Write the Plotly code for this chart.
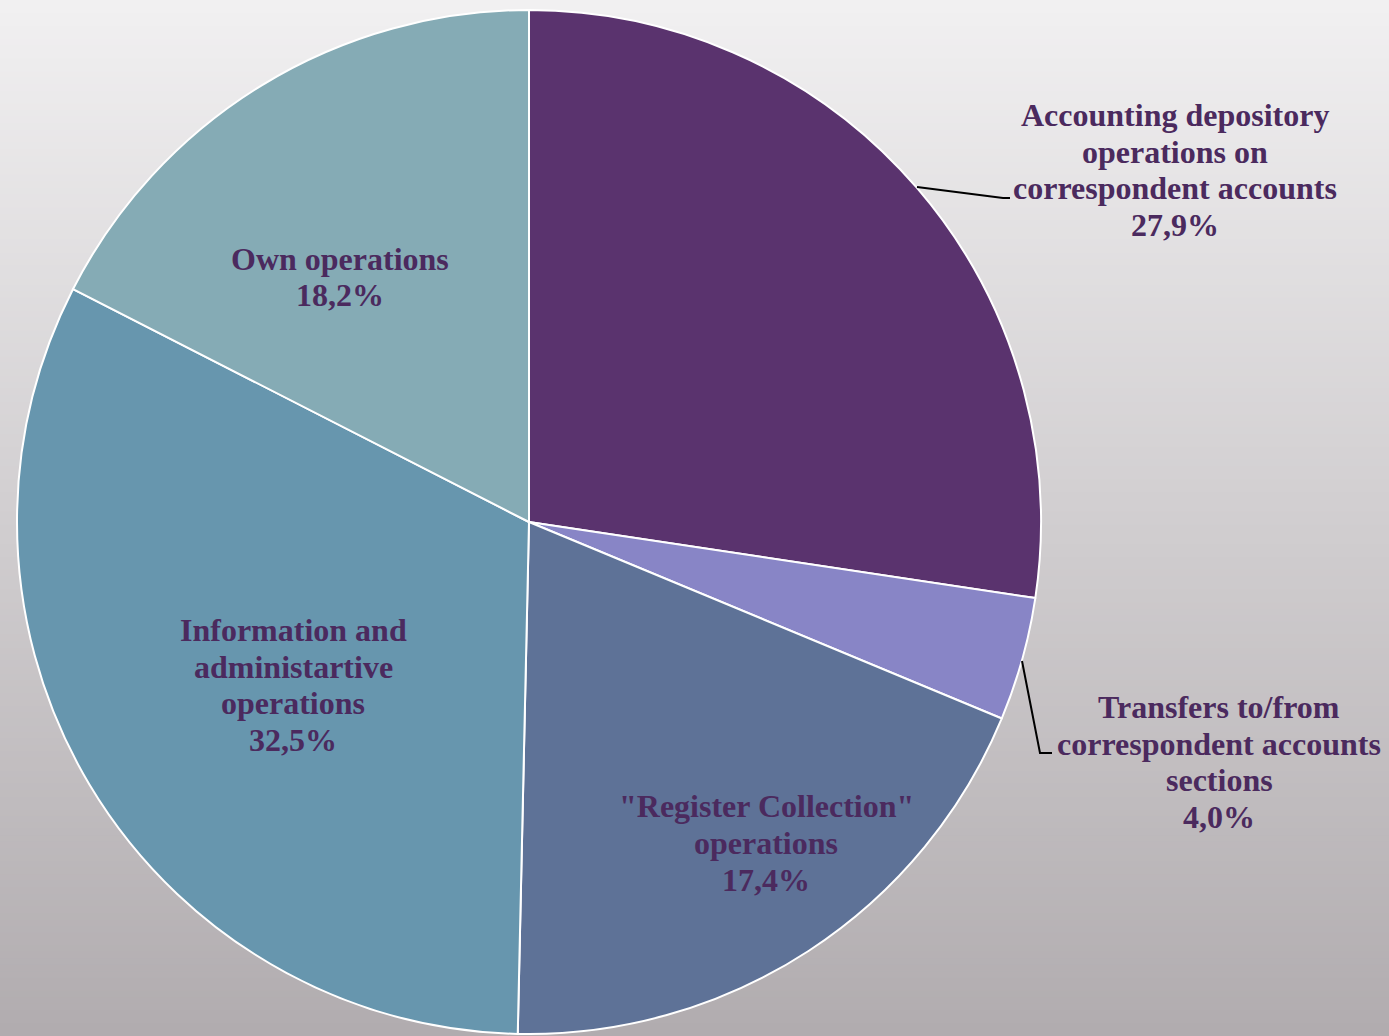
import plotly.graph_objects as go

# ---- data ----
labels = [
    ["Accounting depository", "operations on", "correspondent accounts"],
    ["Transfers to/from", "correspondent accounts", "sections"],
    ["\"Register Collection\"", "operations"],
    ["Information and", "administartive", "operations"],
    ["Own operations"],
]
# slice sizes as drawn in the picture
slice_values = [27.4, 3.9, 19.1, 32.2, 17.5]
# percentages printed on the labels
label_pct = ["27,9%", "4,0%", "17,4%", "32,5%", "18,2%"]
colors = ["#5a336e", "#8885c6", "#5e7297", "#6796ae", "#85abb5"]

W, H = 1389, 1036
text_color = "#4b2a5e"
font_size = 32
line_step = 36.8

# label block centres in pixels (layout only)
label_pos = [(1175, 170), (1219, 762), (766, 843), (293, 685), (340, 277)]

fig = go.Figure()
fig.add_trace(go.Pie(
    labels=[" ".join(l) for l in labels],
    values=slice_values,
    sort=False,
    direction="clockwise",
    rotation=0,
    marker=dict(colors=colors, line=dict(color="white", width=2)),
    textinfo="none",
    hoverinfo="skip",
    showlegend=False,
    domain=dict(x=[17 / W, 1041 / W], y=[1 - 1034 / H, 1 - 10 / H]),
))

# gradient background via thin strips
shapes = []
n = 160
c0 = (241, 240, 241)
c1 = (177, 172, 175)
for i in range(n):
    t = i / (n - 1)
    c = tuple(round(c0[k] + (c1[k] - c0[k]) * t) for k in range(3))
    shapes.append(dict(
        type="rect", xref="paper", yref="paper",
        x0=0, x1=1, y0=1 - (i + 1) / n - 0.001, y1=1 - i / n,
        fillcolor="rgb(%d,%d,%d)" % c, line=dict(width=0), layer="below",
    ))

def px(x, y):
    return x / W, 1 - y / H

# leader lines
for pts in ([(917, 187), (1003, 198), (1010, 198)],
            [(1022, 661), (1040, 753), (1052, 753)]):
    path = "M " + " L ".join("%f,%f" % px(x, y) for x, y in pts)
    shapes.append(dict(type="path", xref="paper", yref="paper", path=path,
                       line=dict(color="black", width=2), layer="above"))

annotations = []
for lab, pct, (x, y) in zip(labels, label_pct, label_pos):
    lines = list(lab) + [pct]
    n_l = len(lines)
    for j, ln in enumerate(lines):
        ly = y + (j - (n_l - 1) / 2) * line_step
        ax, ay = px(x, ly)
        annotations.append(dict(
            x=ax, y=ay, xref="paper", yref="paper", text="<b>%s</b>" % ln,
            showarrow=False, xanchor="center", yanchor="middle", align="center",
            font=dict(family="Liberation Serif, Times New Roman, serif",
                      size=font_size, color=text_color),
        ))

fig.update_layout(
    width=W, height=H,
    margin=dict(l=0, r=0, t=0, b=0),
    paper_bgcolor="rgb(220,218,220)",
    plot_bgcolor="rgba(0,0,0,0)",
    shapes=shapes,
    annotations=annotations,
)

fig.write_html(
    "out.html",
    config={"displayModeBar": False},
    post_script="document.body.style.margin='0';document.body.style.overflow='hidden';",
)
